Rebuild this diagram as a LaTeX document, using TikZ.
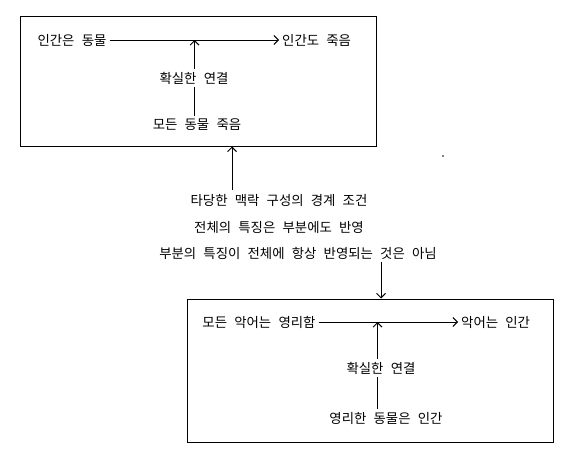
\documentclass[tikz,border=0pt]{standalone}
\usepackage{fontspec}
\setmainfont{Noto Sans CJK KR}[WordSpace={2.4,0,0}]
\usetikzlibrary{arrows.meta}
\tikzset{
  lbl/.style={inner sep=3pt, font=\fontsize{13.4}{16}\selectfont},
  frame/.style={draw, line width=1pt, inner sep=0pt},
  conn/.style={line width=0.9pt},
  arr/.style={conn, -{Straight Barb[length=4.5pt,width=9pt,line width=0.9pt]}}
}
\begin{document}
\begin{tikzpicture}[x=1pt,y=-1pt]
\useasboundingbox (0,0) rectangle (583,460);
% top box
\node[frame, minimum width=356pt, minimum height=129pt] (box1) at (198,81.5) {};
\node[lbl] (a1) at (72,40) {인간은 동물};
\node[lbl, anchor=west] (a2) at (279,40) {인간도 죽음};
\node[lbl] (c1) at (194,78) {확실한 연결};
\node[lbl] (m1) at (197,125) {모든 동물 죽음};
\coordinate (v1) at (194.5,0);
\draw[arr] (a1.east) -- (a2.west);
\draw[arr] (c1.north -| v1) -- (a1 -| v1);
\draw[conn] (m1.north -| v1) -- (c1.south -| v1);
% middle text
\node[lbl] (t1) at (279,200) {타당한 맥락 구성의 경계 조건};
\node[lbl] (t2) at (279,227) {전체의 특징은 부분에도 반영};
\node[lbl] (t3) at (298,253) {부분의 특징이 전체에 항상 반영되는 것은 아님};
\coordinate (up) at (232,190);
\coordinate (dn) at (381,262);
% bottom box
\node[frame, minimum width=366pt, minimum height=143pt] (box2) at (370,370.5) {};
\draw[arr] (up) -- (up |- box1.south);
\draw[arr] (dn) -- (dn |- box2.north);
\node[lbl] (b1) at (259,322) {모든 악어는 영리함};
\node[lbl, anchor=west] (b2) at (458,322) {악어는 인간};
\node[lbl] (c2) at (381,368) {확실한 연결};
\node[lbl] (b3) at (386,418) {영리한 동물은 인간};
\coordinate (v2) at (377.5,0);
\draw[arr] (b1.east) -- (b2.west);
\draw[arr] (c2.north -| v2) -- (b1 -| v2);
\draw[conn] (b3.north -| v2) -- (c2.south -| v2);
% stray dot
\fill (443,156) circle (0.8);
\end{tikzpicture}
\end{document}
